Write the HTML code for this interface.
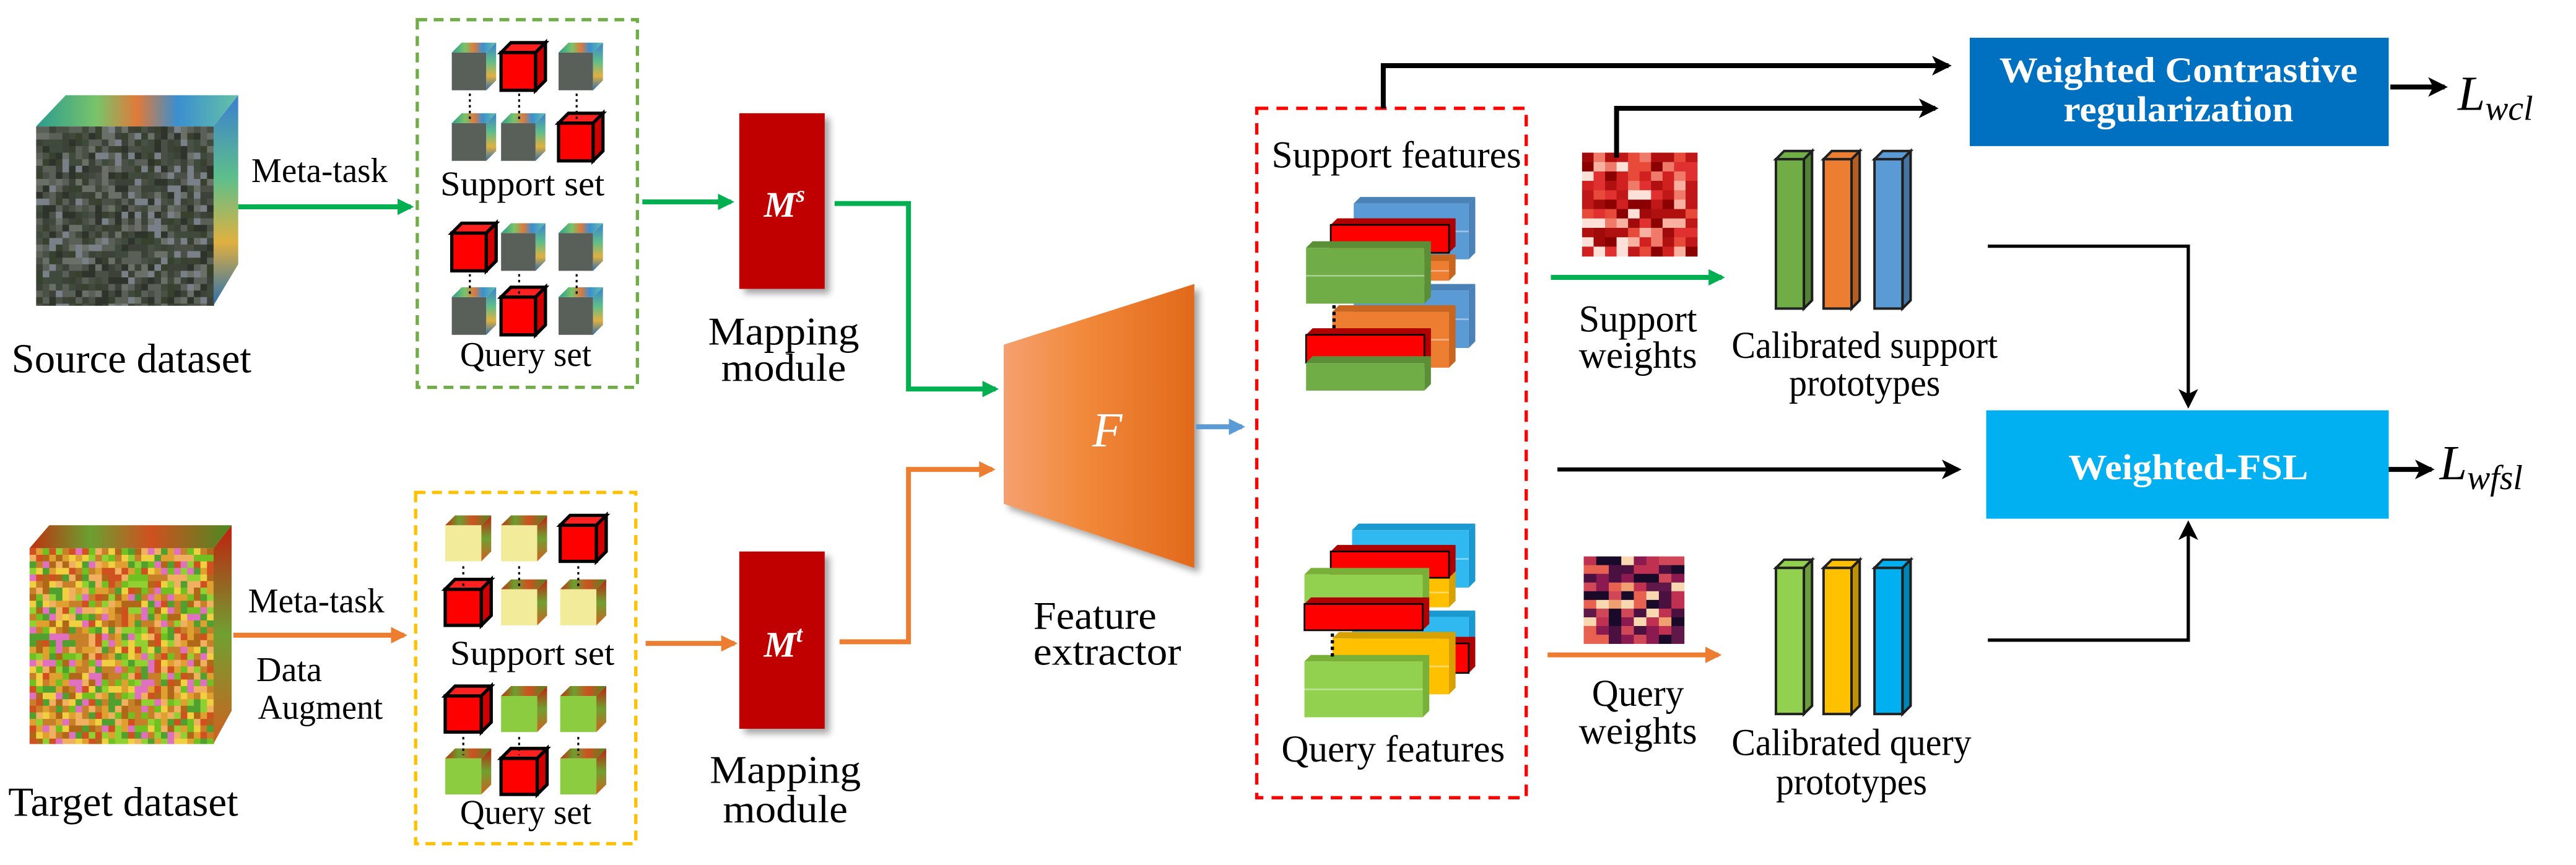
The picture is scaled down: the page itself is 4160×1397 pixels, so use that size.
<!DOCTYPE html>
<html><head><meta charset="utf-8"><style>
html,body{margin:0;padding:0;background:#fff;}
svg{display:block;font-family:"Liberation Serif","Times New Roman",serif;}
svg text{font-family:"Liberation Serif","Times New Roman",serif;}
</style></head><body>
<svg id="s" xmlns="http://www.w3.org/2000/svg" width="4160" height="1397" viewBox="0 0 1568 527" preserveAspectRatio="none" font-family="Liberation Serif, serif">
<defs>
<marker id="ag" markerWidth="10" markerHeight="10" refX="8" refY="5" orient="auto" markerUnits="userSpaceOnUse"><path d="M0,0 L10,5 L0,10 Z" fill="#00b050"/></marker>
<marker id="ao" markerWidth="10" markerHeight="10" refX="8" refY="5" orient="auto" markerUnits="userSpaceOnUse"><path d="M0,0 L10,5 L0,10 Z" fill="#ed7d31"/></marker>
<marker id="ab" markerWidth="10" markerHeight="10" refX="8" refY="5" orient="auto" markerUnits="userSpaceOnUse"><path d="M0,0 L10,5 L0,10 Z" fill="#5b9bd5"/></marker>
<marker id="ak" markerWidth="12" markerHeight="12" refX="10" refY="6" orient="auto" markerUnits="userSpaceOnUse"><path d="M0,0 L12,6 L0,12 L3,6 Z" fill="#000"/></marker>
<linearGradient id="fg" x1="0" x2="1" y1="0" y2="0"><stop offset="0" stop-color="#f4a070"/><stop offset="0.4" stop-color="#f28a3c"/><stop offset="1" stop-color="#e2691b"/></linearGradient>
<linearGradient id="hsT" x1="0" x2="1"><stop offset="0" stop-color="#2a9d8f"/><stop offset="0.3" stop-color="#7ac36a"/><stop offset="0.5" stop-color="#e07a3a"/><stop offset="0.7" stop-color="#3a8fd0"/><stop offset="1" stop-color="#66c2a5"/></linearGradient>
<linearGradient id="hsS" x1="0" x2="0" y1="0" y2="1"><stop offset="0" stop-color="#3a7fd0"/><stop offset="0.4" stop-color="#5fbf8a"/><stop offset="0.7" stop-color="#e0b040"/><stop offset="1" stop-color="#2a6fb0"/></linearGradient>
<linearGradient id="tgT" x1="0" x2="1"><stop offset="0" stop-color="#c03010"/><stop offset="0.3" stop-color="#6aa030"/><stop offset="0.6" stop-color="#d05020"/><stop offset="1" stop-color="#4a8a20"/></linearGradient>
<linearGradient id="tgS" x1="0" x2="0" y1="0" y2="1"><stop offset="0" stop-color="#c02010"/><stop offset="0.5" stop-color="#70a030"/><stop offset="1" stop-color="#d06020"/></linearGradient>
<filter id="sh" x="-20%" y="-20%" width="150%" height="150%"><feDropShadow dx="3" dy="3" stdDeviation="2" flood-color="#000" flood-opacity="0.35"/></filter>
</defs>
<g id="dyn"></g>

<polygon points="22,77 40,58 145,58 130,77" fill="url(#hsT)"/>
<polygon points="130,77 145,58 145,161 130,186" fill="url(#hsS)"/>
<polygon points="18,334 30,320 141,320 130,334" fill="url(#tgT)"/>
<polygon points="130,334 141,320 141,433 130,453" fill="url(#tgS)"/>

<text x="7" y="227" font-size="25" textLength="146" lengthAdjust="spacingAndGlyphs">Source dataset</text>
<text x="5" y="497" font-size="25" textLength="140" lengthAdjust="spacingAndGlyphs">Target dataset</text>
<text x="153" y="111" font-size="21" textLength="83" lengthAdjust="spacingAndGlyphs">Meta-task</text>
<text x="151" y="373" font-size="21" textLength="83" lengthAdjust="spacingAndGlyphs">Meta-task</text>
<text x="156" y="415" font-size="21" textLength="40" lengthAdjust="spacingAndGlyphs">Data</text>
<text x="157" y="438" font-size="21" textLength="76" lengthAdjust="spacingAndGlyphs">Augment</text>

<line x1="145" y1="126" x2="250" y2="126" stroke="#00b050" stroke-width="3" marker-end="url(#ag)"/>
<line x1="142" y1="387" x2="246" y2="387" stroke="#ed7d31" stroke-width="3" marker-end="url(#ao)"/>

<rect x="254" y="12" width="134" height="224" fill="none" stroke="#70ad47" stroke-width="2" stroke-dasharray="6,4"/>
<rect x="253" y="300" width="134" height="214" fill="none" stroke="#ffc000" stroke-width="2" stroke-dasharray="6,4"/>
<text x="318" y="119" font-size="21" text-anchor="middle" textLength="100" lengthAdjust="spacingAndGlyphs">Support  set</text>
<text x="320" y="223" font-size="21" text-anchor="middle" textLength="80" lengthAdjust="spacingAndGlyphs">Query set</text>
<text x="324" y="405" font-size="21" text-anchor="middle" textLength="100" lengthAdjust="spacingAndGlyphs">Support  set</text>
<text x="320" y="502" font-size="21" text-anchor="middle" textLength="80" lengthAdjust="spacingAndGlyphs">Query set</text>

<line x1="391" y1="123" x2="445" y2="123" stroke="#00b050" stroke-width="3" marker-end="url(#ag)"/>
<line x1="393" y1="392" x2="447" y2="392" stroke="#ed7d31" stroke-width="3" marker-end="url(#ao)"/>

<rect x="450" y="69" width="52" height="107" fill="#c00000" filter="url(#sh)"/>
<rect x="450" y="336" width="52" height="108" fill="#c00000" filter="url(#sh)"/>
<text x="465" y="132" font-size="22" fill="#fff" font-style="italic" font-weight="bold">M<tspan font-size="14" dy="-9">s</tspan></text>
<text x="465" y="400" font-size="22" fill="#fff" font-style="italic" font-weight="bold">M<tspan font-size="14" dy="-9">t</tspan></text>
<text x="477" y="210" font-size="24" text-anchor="middle" textLength="92" lengthAdjust="spacingAndGlyphs">Mapping</text>
<text x="477" y="232" font-size="24" text-anchor="middle" textLength="76" lengthAdjust="spacingAndGlyphs">module</text>
<text x="478" y="477" font-size="24" text-anchor="middle" textLength="92" lengthAdjust="spacingAndGlyphs">Mapping</text>
<text x="478" y="501" font-size="24" text-anchor="middle" textLength="76" lengthAdjust="spacingAndGlyphs">module</text>

<polyline points="508,124 553,124 553,237 606,237" fill="none" stroke="#00b050" stroke-width="3" marker-end="url(#ag)"/>
<polyline points="511,391 553,391 553,286 604,286" fill="none" stroke="#ed7d31" stroke-width="3" marker-end="url(#ao)"/>

<polygon points="611,210 727,173 727,346 611,307" fill="url(#fg)" filter="url(#sh)"/>
<text x="674" y="272" font-size="30" fill="#fff" font-style="italic" text-anchor="middle">F</text>
<text x="629" y="383" font-size="24" textLength="75" lengthAdjust="spacingAndGlyphs">Feature</text>
<text x="629" y="405" font-size="24" textLength="90" lengthAdjust="spacingAndGlyphs">extractor</text>
<line x1="728" y1="260" x2="756" y2="260" stroke="#5b9bd5" stroke-width="3" marker-end="url(#ab)"/>

<rect x="765" y="66" width="164" height="420" fill="none" stroke="#ff0000" stroke-width="2" stroke-dasharray="7,5"/>
<text x="774" y="102" font-size="23" textLength="152" lengthAdjust="spacingAndGlyphs">Support features</text>
<text x="780" y="464" font-size="23" textLength="136" lengthAdjust="spacingAndGlyphs">Query features</text>

<polyline points="842,66 842,40 1186,40" fill="none" stroke="#000" stroke-width="3" marker-end="url(#ak)"/>
<polyline points="984,96 984,66 1178,66" fill="none" stroke="#000" stroke-width="3" marker-end="url(#ak)"/>
<polyline points="1210,150 1332,150 1332,247" fill="none" stroke="#000" stroke-width="2" marker-end="url(#ak)"/>
<polyline points="1210,390 1332,390 1332,319" fill="none" stroke="#000" stroke-width="2" marker-end="url(#ak)"/>
<line x1="948" y1="286" x2="1192" y2="286" stroke="#000" stroke-width="2.5" marker-end="url(#ak)"/>

<rect x="1199" y="23" width="255" height="66" fill="#0070c0"/>
<text x="1326" y="50" font-size="22" fill="#fff" font-weight="bold" text-anchor="middle" textLength="218" lengthAdjust="spacingAndGlyphs">Weighted Contrastive</text>
<text x="1326" y="74" font-size="22" fill="#fff" font-weight="bold" text-anchor="middle" textLength="140" lengthAdjust="spacingAndGlyphs">regularization</text>
<rect x="1209" y="250" width="245" height="66" fill="#00b0f0"/>
<text x="1332" y="292" font-size="22" fill="#fff" font-weight="bold" text-anchor="middle" textLength="146" lengthAdjust="spacingAndGlyphs">Weighted-FSL</text>
<line x1="1455" y1="53" x2="1488" y2="53" stroke="#000" stroke-width="3" marker-end="url(#ak)"/>
<line x1="1454" y1="286" x2="1480" y2="286" stroke="#000" stroke-width="3" marker-end="url(#ak)"/>
<text x="1496" y="67" font-size="30" font-style="italic">L<tspan font-size="21" dy="6">wcl</tspan></text>
<text x="1485" y="292" font-size="30" font-style="italic">L<tspan font-size="21" dy="6">wfsl</tspan></text>

<line x1="944" y1="169" x2="1048" y2="169" stroke="#00b050" stroke-width="3" marker-end="url(#ag)"/>
<line x1="942" y1="399" x2="1046" y2="399" stroke="#ed7d31" stroke-width="3" marker-end="url(#ao)"/>
<text x="997" y="202" font-size="23" text-anchor="middle" textLength="72" lengthAdjust="spacingAndGlyphs">Support</text>
<text x="997" y="224" font-size="23" text-anchor="middle" textLength="72" lengthAdjust="spacingAndGlyphs">weights</text>
<text x="997" y="430" font-size="23" text-anchor="middle" textLength="56" lengthAdjust="spacingAndGlyphs">Query</text>
<text x="997" y="453" font-size="23" text-anchor="middle" textLength="72" lengthAdjust="spacingAndGlyphs">weights</text>
<text x="1135" y="218" font-size="23" text-anchor="middle" textLength="162" lengthAdjust="spacingAndGlyphs">Calibrated support</text>
<text x="1135" y="241" font-size="23" text-anchor="middle" textLength="92" lengthAdjust="spacingAndGlyphs">prototypes</text>
<text x="1127" y="460" font-size="23" text-anchor="middle" textLength="146" lengthAdjust="spacingAndGlyphs">Calibrated query</text>
<text x="1127" y="484" font-size="23" text-anchor="middle" textLength="92" lengthAdjust="spacingAndGlyphs">prototypes</text>
</svg>
<script>
(function(){
var NS="http://www.w3.org/2000/svg",g=document.getElementById("dyn");
function el(t,a){var e=document.createElementNS(NS,t);for(var k in a)e.setAttribute(k,a[k]);g.appendChild(e);return e;}
var seed=7;function r(){seed=(seed*9301+49297)%233280;return seed/233280;}
function pick(p){return p[Math.floor(r()*p.length)];}
function tex(x,y,w,h,c,pal){for(var i=0;i<w;i+=c)for(var j=0;j<h;j+=c)el("rect",{x:x+i,y:y+j,width:Math.min(c,w-i)+0.3,height:Math.min(c,h-j)+0.3,fill:pick(pal)});}
tex(22,77,108,109,4,["#3c4238","#4a5046","#2e342c","#5a6058","#6a7068","#404a3c","#7a8088","#38402e"]);
tex(18,334,112,119,4,["#e0a030","#c88028","#f0d040","#90d030","#70c020","#e070c0","#d05020","#f0b060","#b06818","#50a030"]);
function cube(x,y,w,h,t){var d=6;
 var front={red:"#ff0000",hs:"#59605a",tg:"#f2ec9a",tq:"#8ccc40"}[t];
 var top={red:"#ff2020",hs:"url(#hsT)",tg:"url(#tgT)",tq:"url(#tgT)"}[t];
 var side={red:"#d00000",hs:"url(#hsS)",tg:"url(#tgS)",tq:"url(#tgS)"}[t];
 var sw=t=="red"?2:0;
 el("rect",{x:x,y:y+d,width:w-d,height:h-d,fill:front,stroke:sw?"#000":"none","stroke-width":sw});
 el("polygon",{points:[x,y+d,x+d,y,x+w,y,x+w-d,y+d].join(" "),fill:top,stroke:sw?"#000":"none","stroke-width":sw});
 el("polygon",{points:[x+w-d,y+d,x+w,y,x+w,y+h-d,x+w-d,y+h].join(" "),fill:side,stroke:sw?"#000":"none","stroke-width":sw});
}
var cs=[275,305,340],rs=[26,69,136,175],st=[["hs","red","hs"],["hs","hs","red"],["red","hs","hs"],["hs","red","hs"]];
for(var i=0;i<4;i++)for(var j=0;j<3;j++)cube(cs[j],rs[i],27,29,st[i][j]);
var ct=[271,305,341],rt=[314,353,418,456],tt=[["tg","tg","red"],["red","tg","tg"],["red","tq","tq"],["tq","red","tq"]];
for(var i=0;i<4;i++)for(var j=0;j<3;j++)cube(ct[j],rt[i],28,28,tt[i][j]);
[[0,1],[2,3]].forEach(function(p){[cs,ct].forEach(function(c,k){var rr=k?rt:rs;c.forEach(function(cx){el("line",{x1:cx+11,y1:rr[p[0]]+31,x2:cx+11,y2:rr[p[1]]+4,stroke:"#000","stroke-width":1.2,"stroke-dasharray":"1.5,2"});});});});
function blk(x1,y1,x2,y2,c,dc){var d=4;el("polygon",{points:[x1,y1,x1+d,y1-d,x2+d,y1-d,x2,y1].join(" "),fill:dc});el("polygon",{points:[x2,y1,x2+d,y1-d,x2+d,y2-d,x2,y2].join(" "),fill:dc});el("rect",{x:x1,y:y1,width:x2-x1,height:y2-y1,fill:c,stroke:c=="#ff0000"?"#000":"none","stroke-width":1});}
function layered(x1,y1,x2,y2,c,dc){blk(x1,y1,x2,y2,c,dc);el("line",{x1:x1,y1:(y1+y2)/2,x2:x2,y2:(y1+y2)/2,stroke:"#fff","stroke-opacity":0.4});}
var B="#5b9bd5",Bd="#4a82b8",O="#ed7d31",Od="#c8661f",G="#70ad47",Gd="#5a8f38",R="#ff0000",Rd="#b00000",Y="#ffc000",Yd="#d8a000",LB="#30b8f0",LBd="#1a98d0",LG="#92d050",LGd="#78b038";
layered(824,124,894,158,B,Bd);layered(824,177,894,212,B,Bd);
layered(811,159,882,171,O,Od);layered(811,190,882,224,O,Od);
blk(810,137,882,154,R,Rd);
layered(795,151,867,185,G,Gd);
blk(795,204,867,221,R,Rd);blk(795,221,867,238,G,Gd);
el("line",{x1:812,y1:186,x2:812,y2:200,stroke:"#000","stroke-width":2,"stroke-dasharray":"2,2"});
layered(823,323,894,358,LB,LBd);layered(823,376,894,410,LB,LBd);
blk(874,392,894,410,R,Rd);
layered(811,352,882,370,Y,Yd);layered(811,389,882,423,Y,Yd);
blk(810,336,882,352,R,Rd);
blk(794,350,866,368,LG,LGd);blk(794,368,866,384,R,Rd);
layered(794,403,866,437,LG,LGd);
el("line",{x1:811,y1:386,x2:811,y2:400,stroke:"#000","stroke-width":2,"stroke-dasharray":"2,2"});
function heat(x,y,w,h,n,m,pal){var cw=w/n,ch=h/m;for(var i=0;i<n;i++)for(var j=0;j<m;j++)el("rect",{x:x+i*cw,y:y+j*ch,width:cw+0.3,height:ch+0.3,fill:pick(pal)});}
heat(963,93,70,63,10,11,["#8b0000","#b01010","#d02020","#e84a3a","#f07a6a","#f8b0a0","#fde0d8","#c01818","#e03030","#a00a0a"]);
heat(964,339,61,53,8,10,["#1a0a2a","#4a1040","#8a1a50","#c03050","#e86050","#f0a070","#f8d8b0","#601848","#d04858"]);
function bar(x,y1,y2,c){var w=17,d=5;el("polygon",{points:[x,y1+d,x+d,y1,x+w+d,y1,x+w,y1+d].join(" "),fill:c,stroke:"#222","stroke-width":1.5});el("polygon",{points:[x+w,y1+d,x+w+d,y1,x+w+d,y2-d,x+w,y2].join(" "),fill:c,stroke:"#222","stroke-width":1.5});el("rect",{x:x,y:y1+d,width:w,height:y2-y1-d,fill:c,stroke:"#222","stroke-width":1.5});el("polygon",{points:[x+w,y1+d,x+w+d,y1,x+w+d,y2-d,x+w,y2].join(" "),fill:"#000","fill-opacity":0.25});}
bar(1081,92,188,G);bar(1110,92,188,O);bar(1141,92,188,B);
bar(1081,341,435,LG);bar(1110,341,435,Y);bar(1141,341,435,"#00b0f0");
})();
</script>
</body></html>
